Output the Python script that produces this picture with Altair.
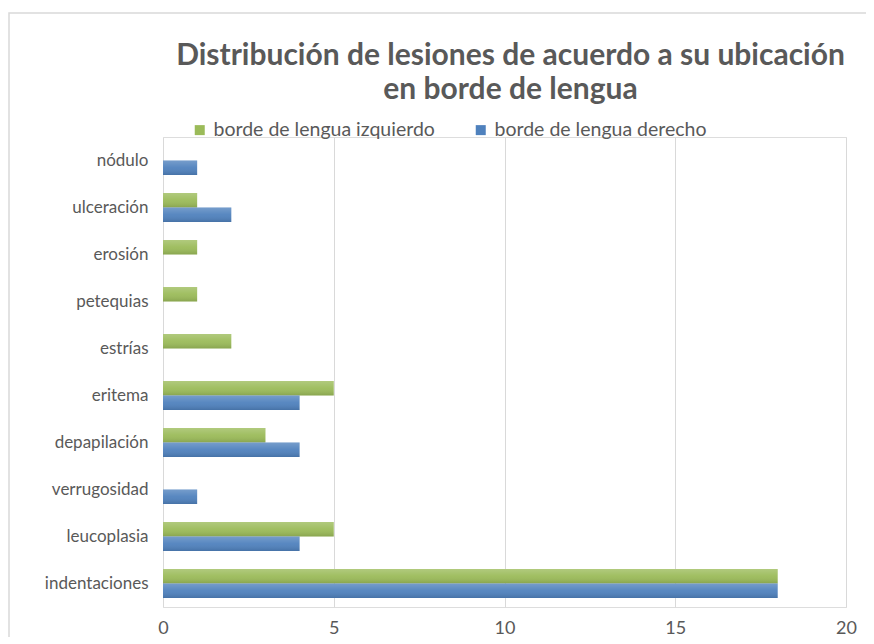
import altair as alt
import pandas as pd

NB = "\u00a0"
categories = ["nódulo", "ulceración" + NB, "erosión" + NB, "petequias", "estrías" + NB,
              "eritema", "depapilación" + NB, "verrugosidad", "leucoplasia", "indentaciones"]
series = ["borde de lengua izquierdo", "borde de lengua derecho"]
izquierdo = [0, 1, 1, 1, 2, 5, 3, 0, 5, 18]
derecho = [1, 2, 0, 0, 0, 4, 4, 1, 4, 18]
x_ticks = [0, 5, 10, 15, 20]
colors = ["#9BBB59", "#4F81BD"]

rows = []
for c, a, b in zip(categories, izquierdo, derecho):
    rows.append({"cat": c, "serie": series[0], "valor": a})
    rows.append({"cat": c, "serie": series[1], "valor": b})
df = pd.DataFrame(rows)

FONT = "Lato"
GRAY = "#595959"

y_enc = alt.Y("cat:N", sort=categories, title=None,
              scale=alt.Scale(paddingInner=0.38, paddingOuter=0.19),
              axis=alt.Axis(domain=False, ticks=False, labelFontSize=17,
                            labelColor=GRAY, labelFont=FONT, labelPadding=15,
                            labelLimit=300))
yoff_enc = alt.YOffset("serie:N", scale=alt.Scale(domain=series))
x_enc = alt.X("valor:Q", title=None,
              scale=alt.Scale(domain=[0, 20], nice=False),
              axis=alt.Axis(values=x_ticks, grid=True, gridColor="#d9d9d9",
                            domain=False, ticks=False, labelFontSize=18,
                            labelColor=GRAY, labelFont=FONT, labelPadding=12,
                            labelFlush=False))

bars = alt.Chart(df).mark_bar(size=14.5).encode(
    y=y_enc, yOffset=yoff_enc, x=x_enc,
    color=alt.Color("serie:N", scale=alt.Scale(domain=series, range=colors),
                    legend=alt.Legend(orient="none", legendX=27, legendY=-17,
                                      direction="horizontal", title=None,
                                      symbolType="square", symbolSize=100,
                                      symbolStrokeWidth=0,
                                      labelFontSize=19.5, labelFont=FONT,
                                      labelColor=GRAY, columnPadding=36,
                                      labelLimit=400)),
)

shade = alt.Chart(df).mark_bar(
    size=14.5,
    color=alt.LinearGradient(
        gradient="linear", x1=0, x2=0, y1=0, y2=1,
        stops=[alt.GradientStop(color="rgba(255,255,255,0.22)", offset=0),
               alt.GradientStop(color="rgba(255,255,255,0.05)", offset=0.5),
               alt.GradientStop(color="rgba(0,0,0,0.12)", offset=1)]),
).encode(y=y_enc, yOffset=yoff_enc, x=x_enc)

border = alt.Chart(pd.DataFrame({"a": [0]})).mark_rect(
    fill=None, stroke="#d9d9d9", strokeWidth=1.5
).encode(x=alt.value(-154), x2=alt.value(900), y=alt.value(-124), y2=alt.value(700))

chart = alt.layer(border, bars, shade).properties(
    width=683, height=470,
    title=alt.Title(["Distribución de lesiones de acuerdo a su ubicación", "en borde de lengua"],
                    font=FONT, fontSize=30, fontWeight="bold", color=GRAY,
                    anchor="middle", lineHeight=34, offset=-93, dx=6),
    autosize=alt.AutoSizeParams(type="none"),
    padding={"left": 155, "top": 129, "right": 20, "bottom": 30},
).configure_view(stroke=None).configure(background="white")

chart.save("out.html", embed_options={"renderer": "svg", "actions": False})
